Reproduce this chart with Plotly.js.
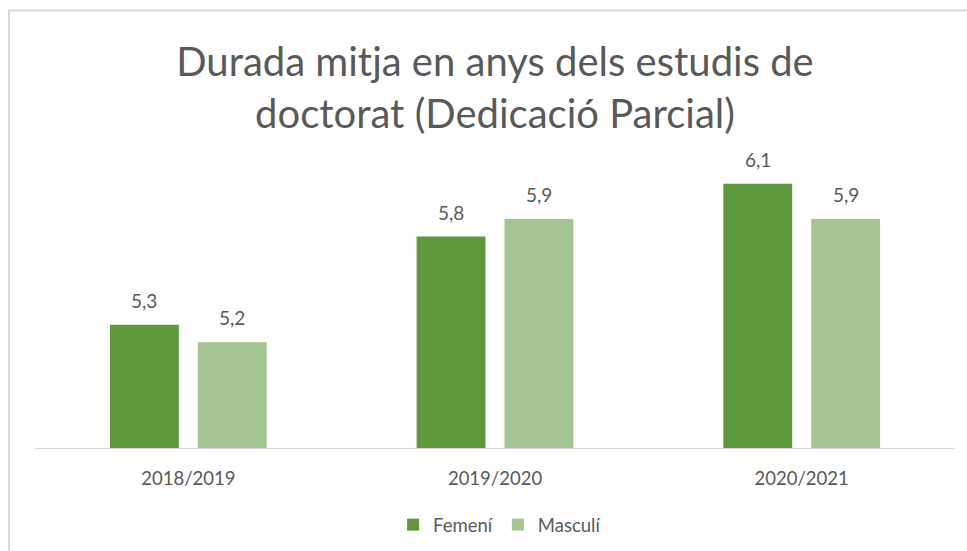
<!DOCTYPE html>
<html>
<head>
<meta charset="utf-8">
<script src="https://cdn.plot.ly/plotly-3.0.1.min.js"></script>
<style>html,body{margin:0;padding:0;background:#fff;}#chart{width:967px;height:551px;}</style>
</head>
<body>
<div id="chart"></div>
<script>
const categories = ["2018/2019", "2019/2020", "2020/2021"];
const femeni = [5.3, 5.8, 6.1];
const masculi = [5.2, 5.9, 5.9];
const seriesNames = ["Femení", "Masculí"];
const titleText = "Durada mitja en anys dels estudis de<br>doctorat (Dedicació Parcial)";

const W = 967, H = 551;
const plotL = 35, plotR = 955, plotB = 448, plotT = 166.4;
const font = "Lato, 'Open Sans', sans-serif";
const txtColor = "#595959";
const bargap = 0.427, bargroupgap = 0.216;
const colors = ["#5f973e", "#a2c591"];

const idx = categories.map((c, i) => i);

const data = [femeni, masculi].map((vals, s) => ({
  type: "bar",
  name: seriesNames[s],
  x: idx,
  y: vals,
  marker: {color: colors[s]},
  hoverinfo: "skip"
}));

// data labels as annotations placed above each bar (bar centre offset from group geometry)
const slot = (1 - bargap) / 2;
const annotations = [];
[femeni, masculi].forEach((vals, s) => {
  vals.forEach((v, i) => {
    annotations.push({
      x: i + (s === 0 ? -slot / 2 : slot / 2),
      y: v, xref: "x", yref: "y",
      text: v.toFixed(1).replace(".", ","),
      showarrow: false, yanchor: "bottom", yshift: 11,
      font: {family: font, size: 19, color: txtColor}
    });
  });
});

const plotW = plotR - plotL, plotH = plotB - plotT;
const px2x = p => (p - plotL) / plotW;
const px2y = p => (plotB - p) / plotH;

const layout = {
  width: W, height: H,
  margin: {l: plotL, r: W - plotR, t: plotT, b: H - plotB, pad: 0, autoexpand: false},
  paper_bgcolor: "#ffffff",
  plot_bgcolor: "#ffffff",
  separators: ",.",
  font: {family: font, color: txtColor},
  title: {
    text: titleText,
    font: {family: font, size: 40, color: txtColor},
    x: 0.5, xanchor: "center",
    y: 1 - 76 / H, yanchor: "middle",
    xref: "paper"
  },
  barmode: "group",
  bargap: bargap,
  bargroupgap: bargroupgap,
  xaxis: {
    tickmode: "array", tickvals: idx, ticktext: categories,
    range: [-0.5, categories.length - 0.5],
    showline: true, linecolor: "#d9d9d9", linewidth: 1,
    showgrid: false, ticks: "", zeroline: false,
    ticklabelstandoff: 14,
    tickfont: {family: font, size: 18.5, color: txtColor},
    fixedrange: true
  },
  yaxis: {
    range: [4.6, 6.2],
    visible: false, showgrid: false, zeroline: false,
    fixedrange: true
  },
  annotations: annotations,
  showlegend: true,
  legend: {
    orientation: "h",
    x: 0.505, xanchor: "center",
    y: px2y(525), yanchor: "middle",
    font: {family: font, size: 18.5, color: txtColor},
    itemwidth: 30,
    traceorder: "normal"
  },
  shapes: [{
    type: "rect", xref: "paper", yref: "paper",
    x0: px2x(9), x1: px2x(1000), y0: px2y(600), y1: px2y(11),
    line: {color: "#d9d9d9", width: 2}, fillcolor: "rgba(0,0,0,0)", layer: "below"
  }]
};

Plotly.newPlot("chart", data, layout, {displayModeBar: false, staticPlot: true});
</script>
</body>
</html>
